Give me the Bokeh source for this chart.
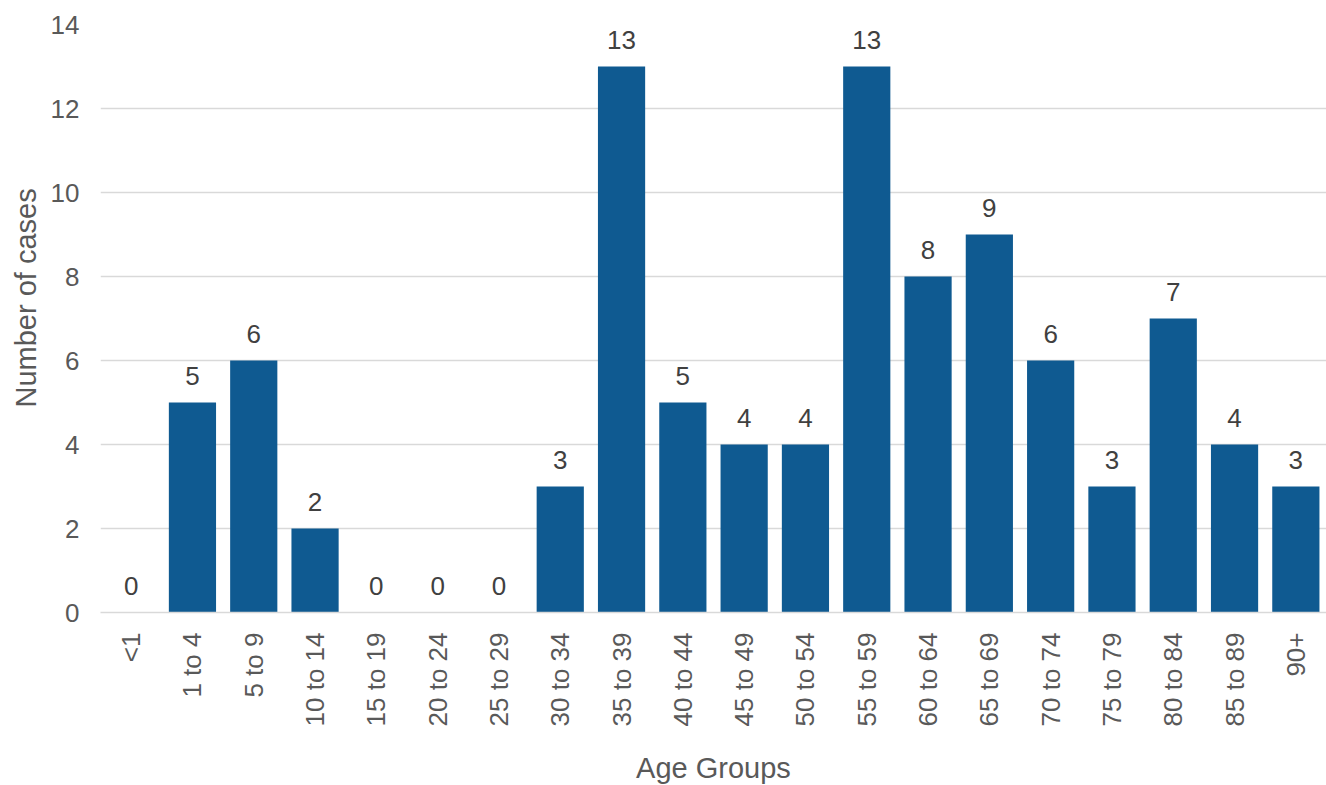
from bokeh.plotting import figure
from bokeh.models import ColumnDataSource, FactorRange, Range1d, FixedTicker, LabelSet, Title
from bokeh.core.properties import value
from bokeh.embed import file_html
from bokeh.resources import INLINE
import math

categories = ["<1", "1 to 4", "5 to 9", "10 to 14", "15 to 19", "20 to 24", "25 to 29",
              "30 to 34", "35 to 39", "40 to 44", "45 to 49", "50 to 54", "55 to 59",
              "60 to 64", "65 to 69", "70 to 74", "75 to 79", "80 to 84", "85 to 89", "90+"]
cases = [0, 5, 6, 2, 0, 0, 0, 3, 13, 5, 4, 4, 13, 8, 9, 6, 3, 7, 4, 3]
y_ticks = [0, 2, 4, 6, 8, 10, 12, 14]

FONT = "Liberation Sans"
BAR = "#0F5A91"
TXT = "#595959"
GRID = "#D9D9D9"
FS = "26px"
TFS = "29px"

source = ColumnDataSource(dict(cat=categories, val=cases, lab=[str(v) for v in cases]))

p = figure(x_range=FactorRange(factors=categories), y_range=Range1d(0, 14),
           frame_width=1226, frame_height=588, output_backend="svg", toolbar_location=None,
           min_border_left=100, min_border_right=0, min_border_top=24, min_border_bottom=173)

p.vbar(x="cat", top="val", width=0.77, source=source, color=BAR, line_color=None)

labels = LabelSet(x="cat", y="val", text="lab", source=source, text_align="center",
                  text_baseline="alphabetic", y_offset=18, text_font_size=value(FS),
                  text_color="#404040", text_font=value(FONT))
p.add_layout(labels)

p.outline_line_color = None
p.xgrid.grid_line_color = None
p.ygrid.grid_line_color = GRID
p.ygrid.grid_line_width = 1.5
p.yaxis.ticker = FixedTicker(ticks=y_ticks)

for ax in (p.xaxis[0], p.yaxis[0]):
    ax.major_tick_line_color = None
    ax.minor_tick_line_color = None
    ax.major_label_text_font = FONT
    ax.major_label_text_font_size = FS
    ax.major_label_text_color = TXT
    ax.axis_label_text_font = FONT
    ax.axis_label_text_font_size = TFS
    ax.axis_label_text_color = TXT
    ax.axis_label_text_font_style = "normal"

p.yaxis.axis_line_color = None
p.yaxis.major_label_standoff = 15

# y-axis title, placed like the original (slightly above the plot's vertical centre)
ytitle = Title(text="Number of cases", align="left", offset=205, standoff=12,
               text_font=FONT, text_font_size=TFS, text_color=TXT,
               text_font_style="normal")
p.add_layout(ytitle, "left")

p.xaxis.axis_line_color = GRID
p.xaxis.axis_line_width = 1.5
p.xaxis.axis_label = "Age Groups"
p.xaxis.major_label_orientation = math.pi / 2
p.xaxis.major_label_standoff = 14
p.xaxis.axis_label_standoff = 23

open("out.html", "w").write(file_html(p, INLINE))
